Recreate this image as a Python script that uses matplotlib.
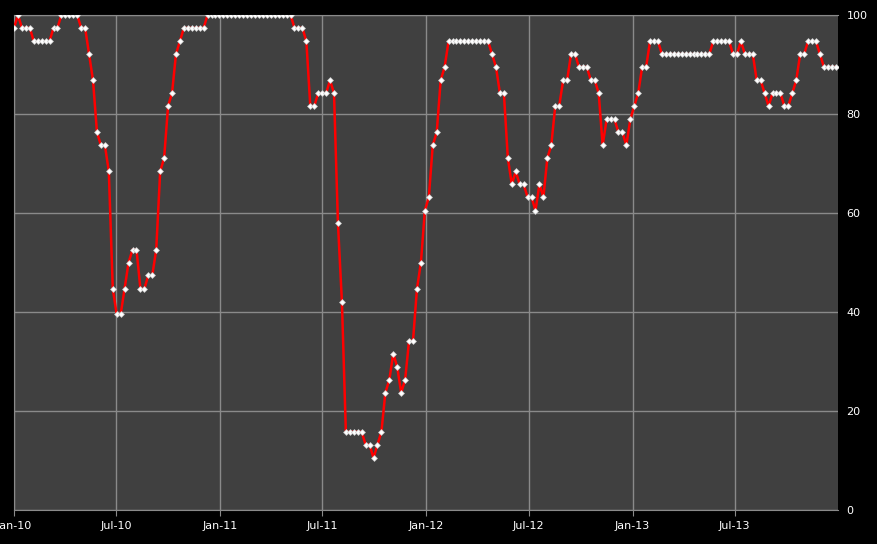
import matplotlib
matplotlib.use("Agg")
import matplotlib.pyplot as plt
import matplotlib.dates as mdates
import pandas as pd

# weekly readings, Jan 2010 - Dec 2013
start_date = "2010-01-01"
values = [
    97.4, 100.0, 97.4, 97.4, 97.4, 94.7, 94.7, 94.7, 94.7, 94.7,
    97.4, 97.4, 100.0, 100.0, 100.0, 100.0, 100.0, 97.4, 97.4, 92.1,
    86.8, 76.3, 73.7, 73.7, 68.4, 44.7, 39.5, 39.5, 44.7, 50.0,
    52.6, 52.6, 44.7, 44.7, 47.4, 47.4, 52.6, 68.4, 71.1, 81.6,
    84.2, 92.1, 94.7, 97.4, 97.4, 97.4, 97.4, 97.4, 97.4, 100.0,
    100.0, 100.0, 100.0, 100.0, 100.0, 100.0, 100.0, 100.0, 100.0, 100.0,
    100.0, 100.0, 100.0, 100.0, 100.0, 100.0, 100.0, 100.0, 100.0, 100.0,
    100.0, 97.4, 97.4, 97.4, 94.7, 81.6, 81.6, 84.2, 84.2, 84.2,
    86.8, 84.2, 57.9, 42.1, 15.8, 15.8, 15.8, 15.8, 15.8, 13.2,
    13.2, 10.5, 13.2, 15.8, 23.7, 26.3, 31.6, 28.9, 23.7, 26.3,
    34.2, 34.2, 44.7, 50.0, 60.5, 63.2, 73.7, 76.3, 86.8, 89.5,
    94.7, 94.7, 94.7, 94.7, 94.7, 94.7, 94.7, 94.7, 94.7, 94.7,
    94.7, 92.1, 89.5, 84.2, 84.2, 71.1, 65.8, 68.4, 65.8, 65.8,
    63.2, 63.2, 60.5, 65.8, 63.2, 71.1, 73.7, 81.6, 81.6, 86.8,
    86.8, 92.1, 92.1, 89.5, 89.5, 89.5, 86.8, 86.8, 84.2, 73.7,
    78.9, 78.9, 78.9, 76.3, 76.3, 73.7, 78.9, 81.6, 84.2, 89.5,
    89.5, 94.7, 94.7, 94.7, 92.1, 92.1, 92.1, 92.1, 92.1, 92.1,
    92.1, 92.1, 92.1, 92.1, 92.1, 92.1, 92.1, 94.7, 94.7, 94.7,
    94.7, 94.7, 92.1, 92.1, 94.7, 92.1, 92.1, 92.1, 86.8, 86.8,
    84.2, 81.6, 84.2, 84.2, 84.2, 81.6, 81.6, 84.2, 86.8, 92.1,
    92.1, 94.7, 94.7, 94.7, 92.1, 89.5, 89.5, 89.5, 89.5,
]
dates = pd.date_range(start_date, periods=len(values), freq="7D")
y_ticks = [0, 20, 40, 60, 80, 100]

fig = plt.figure(figsize=(8.78, 5.44), dpi=100, facecolor="black")
ax = fig.add_axes([14 / 878, 1 - 510 / 544, 824 / 878, 495 / 544])
ax.set_facecolor("#404040")

ax.plot(dates, values, color="#ff0000", lw=1.8, zorder=3,
        marker="D", ms=3.0, mfc="white", mec="#c8c8c8", mew=0.5)

ax.set_xlim(pd.Timestamp("2010-01-01"), pd.Timestamp("2013-12-31"))
ax.set_ylim(0, 100)
ax.set_yticks(y_ticks)

ax.xaxis.set_major_locator(mdates.MonthLocator(bymonth=[1, 7]))
ax.xaxis.set_major_formatter(mdates.DateFormatter("%b-%y"))

ax.yaxis.tick_right()
ax.grid(True, color="#8a8a8a", lw=1)
ax.set_axisbelow(True)

ax.tick_params(axis="x", colors="white", labelsize=8, length=4, color="#8a8a8a", pad=4)
ax.tick_params(axis="y", colors="white", labelsize=8, length=0, pad=6)

for side, sp in ax.spines.items():
    sp.set_color("#8a8a8a")
ax.spines["right"].set_visible(False)

fig.savefig("out.png", dpi=100, facecolor="black")
